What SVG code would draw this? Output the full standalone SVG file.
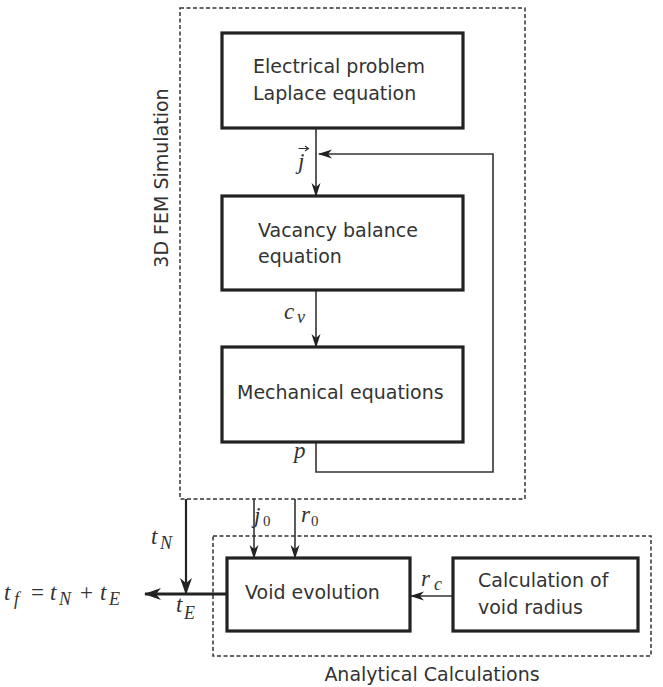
<svg xmlns="http://www.w3.org/2000/svg" width="663" height="687" viewBox="0 0 663 687">
<style>
.box{fill:#fff;stroke:#222;stroke-width:3.2}
.dash{fill:none;stroke:#333;stroke-width:1.5;stroke-dasharray:4 2.5}
.ln{fill:none;stroke:#333;stroke-width:1.6}
.txt{font-family:"DejaVu Sans",sans-serif;font-size:19px;fill:#333}
.m{font-family:"Liberation Serif",serif;font-style:italic;font-size:23px;fill:#333}
.ms{font-family:"Liberation Serif",serif;font-style:italic;font-size:18px;fill:#333}
.mr{font-family:"Liberation Serif",serif;font-size:23px;fill:#333}
.d{font-family:"Liberation Serif",serif;font-size:15px;fill:#333}
</style>
<defs>
<marker id="ah" markerWidth="14" markerHeight="10" refX="13" refY="5" orient="auto" markerUnits="userSpaceOnUse">
<path d="M0,0.5 L14,5 L0,9.5 L4,5 z" fill="#222"/>
</marker>
<marker id="ahb" markerWidth="17" markerHeight="12" refX="16" refY="6" orient="auto" markerUnits="userSpaceOnUse">
<path d="M0,0 L17,6 L0,12 L5,6 z" fill="#222"/>
</marker>
</defs>
<rect width="663" height="687" fill="#fff"/>
<g id="fem-group">
<rect class="dash" x="180" y="8" width="345" height="491"/>
<text class="txt" transform="translate(168,178) rotate(-90)" text-anchor="middle">3D FEM Simulation</text>
</g>
<g id="analytical-group">
<rect class="dash" x="213" y="536" width="438" height="120"/>
<text class="txt" x="432" y="681" text-anchor="middle">Analytical Calculations</text>
</g>
<g id="connectors">
<line class="ln" x1="316" y1="129" x2="316" y2="196" marker-end="url(#ah)"/>
<polyline class="ln" points="316,442 316,472 493,472 493,154 319,154" marker-end="url(#ah)"/>
<line class="ln" x1="316" y1="290" x2="316" y2="347" marker-end="url(#ah)"/>
<line class="ln" x1="254" y1="499" x2="254" y2="558" marker-end="url(#ah)"/>
<line class="ln" x1="295" y1="499" x2="295" y2="558" marker-end="url(#ah)"/>
<line class="ln" x1="453" y1="596" x2="411" y2="596" marker-end="url(#ah)"/>
<line x1="186" y1="499" x2="186" y2="594" stroke="#222" stroke-width="2.2" marker-end="url(#ahb)"/>
<line x1="227" y1="594" x2="145" y2="594" stroke="#222" stroke-width="3" marker-end="url(#ahb)"/>
</g>
<g id="electrical">
<rect class="box" x="222" y="33" width="241" height="95"/>
<text class="txt" x="253" y="73">Electrical problem</text>
<text class="txt" x="253" y="100">Laplace equation</text>
</g>
<g id="vacancy">
<rect class="box" x="222" y="196" width="241" height="94"/>
<text class="txt" x="258" y="237">Vacancy balance</text>
<text class="txt" x="258" y="263">equation</text>
</g>
<g id="mechanical">
<rect class="box" x="222" y="347" width="241" height="95"/>
<text class="txt" x="237" y="399">Mechanical equations</text>
</g>
<g id="void-evolution">
<rect class="box" x="227" y="558" width="183" height="73"/>
<text class="txt" x="245" y="599">Void evolution</text>
</g>
<g id="void-radius">
<rect class="box" x="453" y="558" width="185" height="73"/>
<text class="txt" x="478" y="587">Calculation of</text>
<text class="txt" x="478" y="614">void radius</text>
</g>
<g id="labels">
<text class="m" x="298" y="169">j</text>
<path d="M298.5,148.5 L308,148.5 M305,146 L308.5,148.5 L305,151" fill="none" stroke="#333" stroke-width="1.1"/>
<text class="m" x="284" y="319">c</text>
<text class="ms" x="297" y="323">v</text>
<text class="m" x="294" y="458">p</text>
<text class="m" x="254" y="523" font-size="19">j</text>
<text class="d" x="263" y="526">0</text>
<text class="m" x="301" y="522" font-size="19">r</text>
<text class="d" x="311" y="526">0</text>
<text class="m" x="421" y="586">r</text>
<text class="ms" x="434" y="590">c</text>
<text class="m" x="151" y="544">t</text>
<text class="ms" x="160" y="549">N</text>
<text class="m" x="176" y="612">t</text>
<text class="ms" x="184" y="619">E</text>
<text class="m" x="4" y="600">t</text>
<text class="ms" x="14" y="605">f</text>
<text class="mr" x="31" y="600">=</text>
<text class="m" x="50" y="600">t</text>
<text class="ms" x="59" y="605">N</text>
<text class="mr" x="80" y="600">+</text>
<text class="m" x="100" y="600">t</text>
<text class="ms" x="109" y="605">E</text>
</g>
</svg>
